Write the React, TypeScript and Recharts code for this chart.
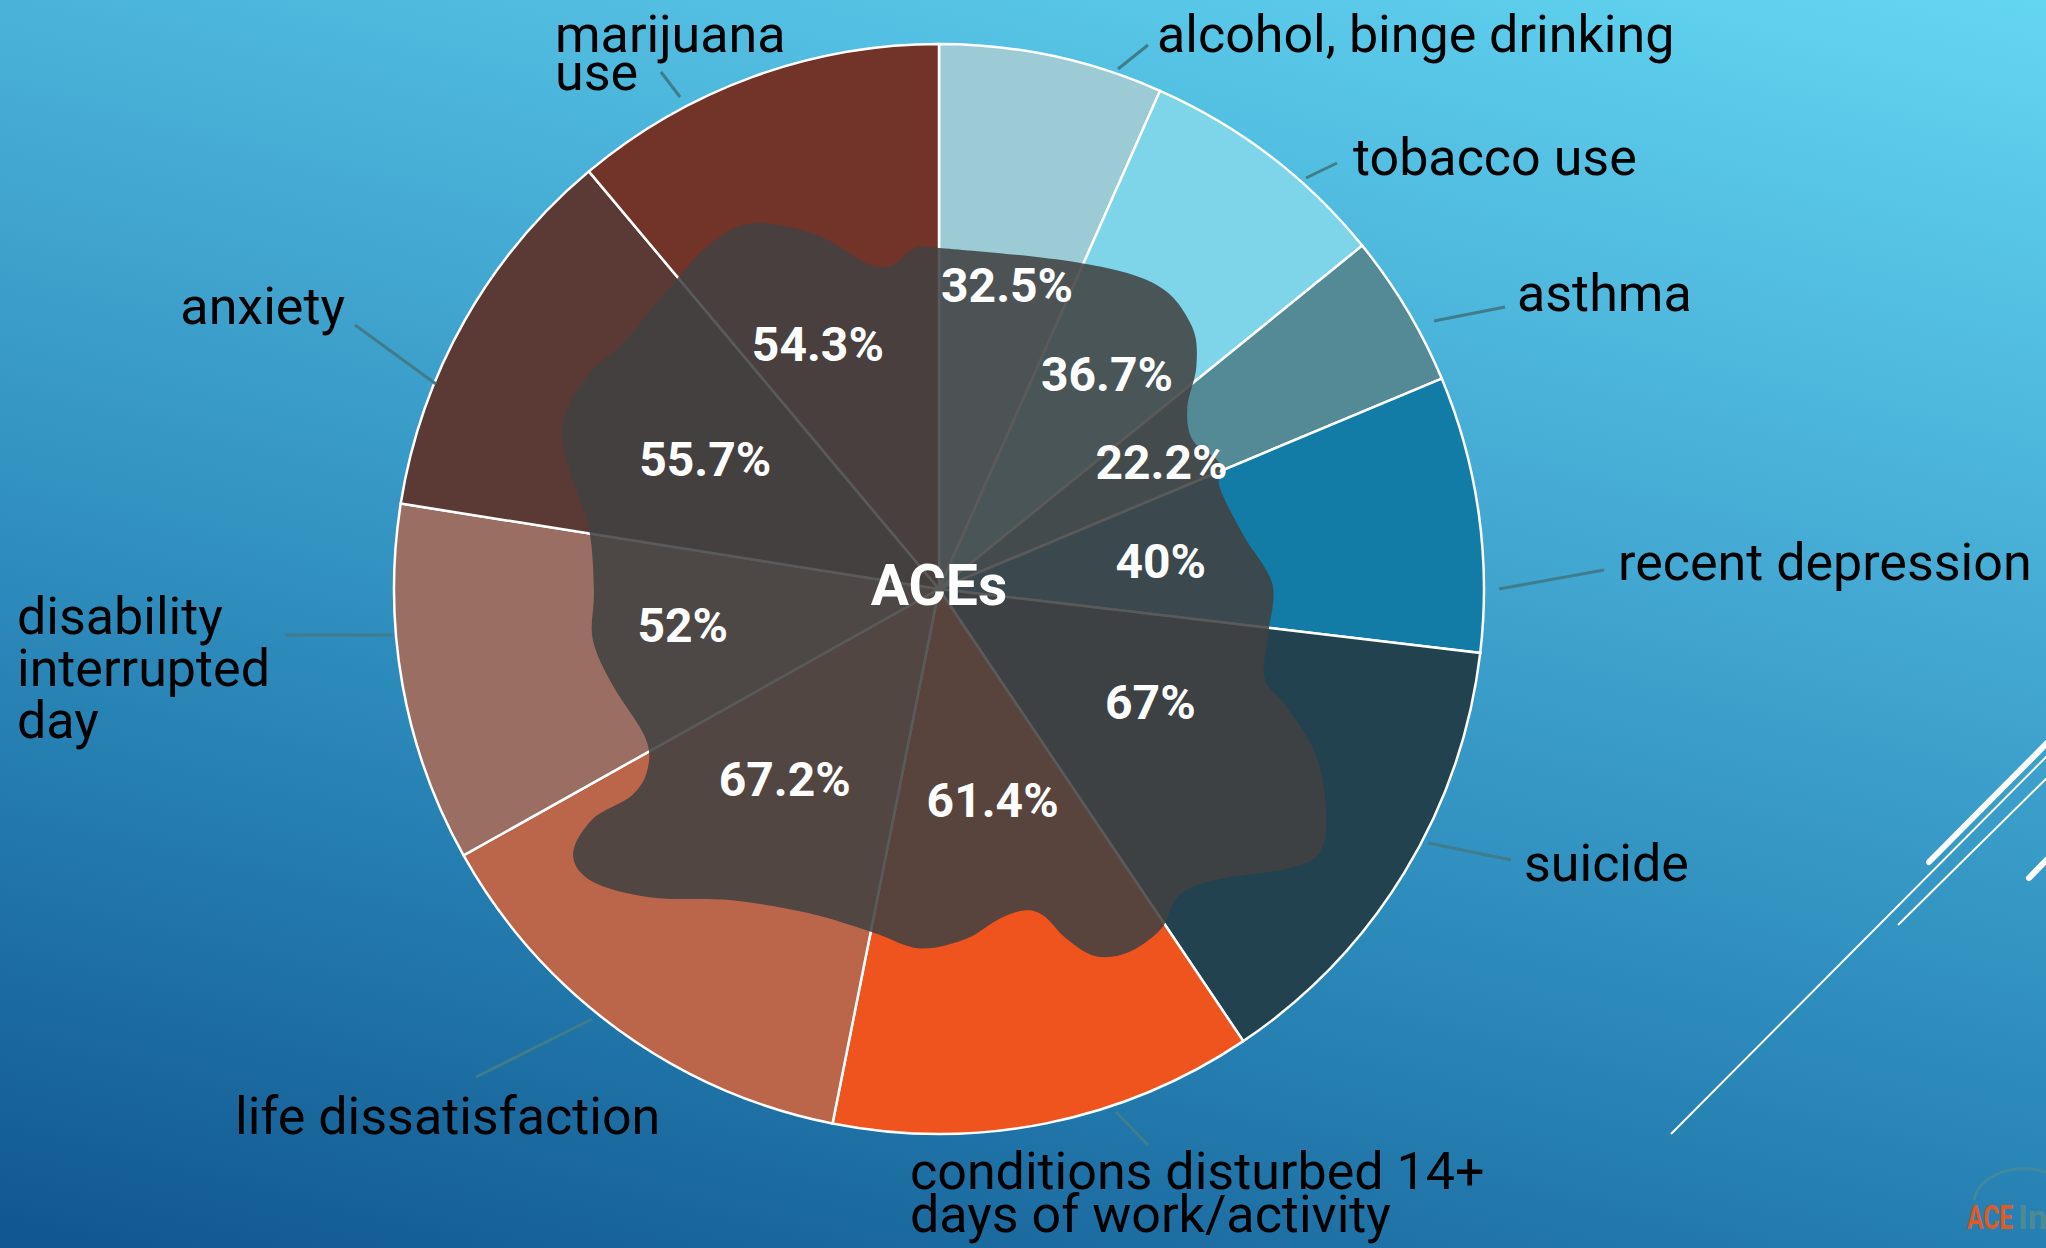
import React from "react";
import { PieChart, Pie, Cell } from "recharts";

// categories, clockwise from 12 o'clock
const CATEGORIES = [
  "alcohol, binge drinking",
  "tobacco use",
  "asthma",
  "recent depression",
  "suicide",
  "conditions disturbed 14+\ndays of work/activity",
  "life dissatisfaction",
  "disability\ninterrupted\nday",
  "anxiety",
  "marijuana\nuse",
];
const VALUES = [32.5, 36.7, 22.2, 40, 67, 61.4, 67.2, 52, 55.7, 54.3];
const COLORS = [
  "#9ccbd6", "#7ed4e9", "#538a96", "#137ca6", "#234250",
  "#f0541e", "#bb654b", "#9a6e62", "#5b3a36", "#723428",
];

const data = CATEGORIES.map((name, i) => ({ name, value: VALUES[i] }));

const W = 2046;
const H = 1248;
const CX = 939;
const CY = 589;
const R = 545;
const RAD = Math.PI / 180;
const FONT = "Roboto, 'Noto Sans', sans-serif";
const NO_MARGIN = { top: 0, right: 0, bottom: 0, left: 0 };

// outer label layout, px from pie centre: text x, first baseline, anchor, line height, leader [x1,y1,x2,y2]
const OUTER = [
  { x: 218, y: -537, anchor: "start", lh: 40, leader: [179, -520, 209, -544] },
  { x: 414, y: -414, anchor: "start", lh: 40, leader: [367, -411, 398, -426] },
  { x: 578, y: -278, anchor: "start", lh: 40, leader: [495, -268, 566, -282] },
  { x: 679, y: -9, anchor: "start", lh: 40, leader: [560, 0, 665, -19] },
  { x: 585, y: 292, anchor: "start", lh: 40, leader: [489, 254, 572, 271] },
  { x: -29, y: 600, anchor: "start", lh: 43, leader: [177, 523, 209, 556] },
  { x: -704, y: 545, anchor: "start", lh: 40, leader: [-347, 430, -463, 488] },
  { x: -922, y: 45, anchor: "start", lh: 52, leader: [-546, 46, -654, 46] },
  { x: -594, y: -265, anchor: "end", lh: 40, leader: [-503, -205, -584, -264] },
  { x: -384, y: -537, anchor: "start", lh: 38, leader: [-259, -492, -278, -517] },
];

// percentage label nudges: [angle offset deg (clockwise), radius factor]
const INNER = [
  [0.7, 0.57], [0.6, 0.5], [1.2, 0.47], [0.8, 0.41], [-3.2, 0.44],
  [-2.9, 0.4], [3, 0.45], [2, 0.475], [-0.6, 0.49], [-6.4, 0.5],
];

// decorative blob outline, relative to centre, in units where radius = 417
const BLOB = [
  [0, -261], [105, -250], [166, -233], [193, -202], [197, -171], [190, -139],
  [194, -114], [214, -97], [215, -77], [233, -41], [255, -4], [252, 34],
  [249, 68], [265, 89], [288, 126], [296, 168], [292, 200], [270, 213],
  [210, 223], [183, 235], [170, 260], [145, 278], [120, 281], [98, 268],
  [80, 250], [65, 246], [45, 253], [20, 268], [-15, 275], [-50, 263],
  [-100, 248], [-160, 238], [-220, 236], [-265, 224], [-280, 203], [-265, 176],
  [-235, 158], [-223, 138], [-225, 113], [-250, 73], [-265, 38], [-264, 1],
  [-268, -47], [-283, -92], [-288, -127], [-270, -162], [-240, -190],
  [-205, -232], [-175, -264], [-142, -280], [-94, -271], [-55, -249],
  [-35, -248], [-20, -260],
];

function blobPath() {
  const k = R / 417;
  const p = BLOB.map(([x, y]) => [CX + x * k, CY + y * k]);
  const n = p.length;
  let d = `M${p[0][0]},${p[0][1]}`;
  for (let i = 0; i < n; i++) {
    const p0 = p[(i - 1 + n) % n];
    const p1 = p[i];
    const p2 = p[(i + 1) % n];
    const p3 = p[(i + 2) % n];
    const c1x = p1[0] + (p2[0] - p0[0]) / 6;
    const c1y = p1[1] + (p2[1] - p0[1]) / 6;
    const c2x = p2[0] - (p3[0] - p1[0]) / 6;
    const c2y = p2[1] - (p3[1] - p1[1]) / 6;
    d += ` C${c1x},${c1y} ${c2x},${c2y} ${p2[0]},${p2[1]}`;
  }
  return d + "Z";
}

const renderOuter = (props: any) => {
  const { cx, cy, index } = props;
  const o = OUTER[index];
  const lines = CATEGORIES[index].split("\n");
  const [x1, y1, x2, y2] = o.leader;
  return (
    <g key={`outer-${index}`}>
      <line x1={cx + x1} y1={cy + y1} x2={cx + x2} y2={cy + y2} stroke="#3f7d8c" strokeWidth={3} />
      <text
        x={cx + o.x}
        y={cy + o.y}
        textAnchor={o.anchor}
        fill="#000"
        fontFamily={FONT}
        fontSize={52}
      >
        {lines.map((l, k) => (
          <tspan key={k} x={cx + o.x} dy={k === 0 ? 0 : o.lh}>
            {l}
          </tspan>
        ))}
      </text>
    </g>
  );
};

const renderInner = (props: any) => {
  const { cx, cy, midAngle, outerRadius, index, value } = props;
  const [da, f] = INNER[index];
  const a = midAngle - da;
  const r = outerRadius * f;
  const x = cx + r * Math.cos(-a * RAD);
  const y = cy + r * Math.sin(-a * RAD);
  return (
    <text
      key={`inner-${index}`}
      x={x}
      y={y}
      textAnchor="middle"
      dominantBaseline="central"
      fill="#fff"
      fontFamily={FONT}
      fontWeight={700}
      fontSize={48}
    >
      {`${value}%`}
    </text>
  );
};

const layer: React.CSSProperties = { position: "absolute", left: 0, top: 0 };

export default function App() {
  return (
    <div
      style={{
        ...layer,
        width: W,
        height: H,
        overflow: "hidden",
        background: "linear-gradient(194deg, #63d6f2 0%, #45abd4 35%, #2a87b8 65%, #10568f 100%)",
      }}
    >
      {/* slide decoration */}
      <svg width={W} height={H} style={layer}>
        <line x1={1671} y1={1134} x2={2060} y2={743} stroke="#fff" strokeWidth={2} />
        <line x1={1898} y1={925} x2={2060} y2={765} stroke="#fff" strokeWidth={2} />
        <line x1={1929} y1={862} x2={2060} y2={730} stroke="#fff" strokeWidth={6} strokeLinecap="round" />
        <line x1={2029} y1={878} x2={2060} y2={846} stroke="#fff" strokeWidth={6} strokeLinecap="round" />
        <path d="M1974,1200 A50,36 0 0 1 2060,1180" fill="none" stroke="#4d8a96" strokeWidth={3} opacity={0.7} />
        <text x={1967} y={1229} fontFamily={FONT} fontWeight={700} fontSize={34} fill="#e05a24" textLength={46} lengthAdjust="spacingAndGlyphs">
          ACE
        </text>
        <text x={2018} y={1229} fontFamily={FONT} fontWeight={700} fontSize={34} fill="#4d8a96">
          In
        </text>
      </svg>

      {/* slices and category labels */}
      <div style={layer}>
        <PieChart width={W} height={H} margin={NO_MARGIN}>
          <Pie
            data={data}
            dataKey="value"
            cx={CX}
            cy={CY}
            outerRadius={R}
            startAngle={90}
            endAngle={-270}
            stroke="#fff"
            strokeWidth={2.5}
            label={renderOuter}
            labelLine={false}
            isAnimationActive={false}
          >
            {data.map((d, i) => (
              <Cell key={d.name} fill={COLORS[i]} />
            ))}
          </Pie>
        </PieChart>
      </div>

      {/* dark blob in the middle */}
      <svg width={W} height={H} style={layer}>
        <path d={blobPath()} fill="#424242" fillOpacity={0.87} />
        <text
          x={CX}
          y={CY - 4}
          textAnchor="middle"
          dominantBaseline="central"
          fill="#fff"
          fontFamily={FONT}
          fontWeight={700}
          fontSize={57}
        >
          ACEs
        </text>
      </svg>

      {/* percentage labels on top */}
      <div style={layer}>
        <PieChart width={W} height={H} margin={NO_MARGIN}>
          <Pie
            data={data}
            dataKey="value"
            cx={CX}
            cy={CY}
            outerRadius={R}
            startAngle={90}
            endAngle={-270}
            fill="none"
            stroke="none"
            label={renderInner}
            labelLine={false}
            isAnimationActive={false}
          />
        </PieChart>
      </div>
    </div>
  );
}
